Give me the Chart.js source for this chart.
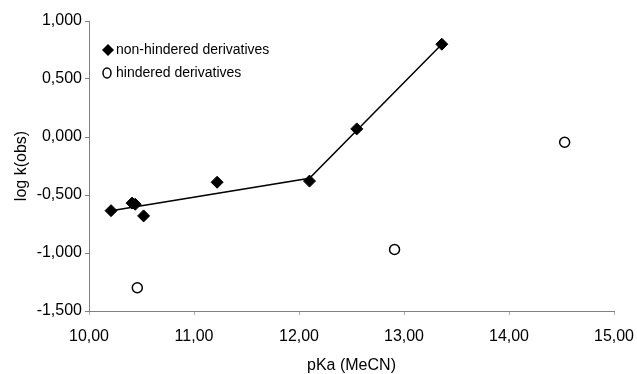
<!DOCTYPE html>
<html>
<head>
<meta charset="utf-8">
<script src="https://cdn.jsdelivr.net/npm/chart.js@4"></script>
<style>
  html, body { margin: 0; padding: 0; background: #fff; }
  #wrap { width: 637px; height: 374px; }
</style>
</head>
<body>
<div id="wrap"><canvas id="chart"></canvas></div>
<script>
// pKa (MeCN) vs log k(obs)
const nonHinderedX = [10.21, 10.41, 10.44, 10.52, 11.22, 12.10, 12.55, 13.36];
const nonHinderedY = [-0.635, -0.57, -0.58, -0.68, -0.39, -0.38, 0.07, 0.80];
const hinderedX = [10.46, 12.91, 14.53];
const hinderedY = [-1.30, -0.97, -0.045];
const fitX = [10.21, 12.10, 13.36];
const fitY = [-0.635, -0.355, 0.80];

const legendItems = ["non-hindered derivatives", "hindered derivatives"];
const xTitle = "pKa (MeCN)";
const yTitle = "log k(obs)";

const FONT = "'Liberation Sans', Arial, sans-serif";

function toPoints(xs, ys) {
  return xs.map((x, i) => ({ x, y: ys[i] }));
}

function comma(value, digits) {
  return value.toFixed(digits).replace(".", ",");
}

// legend drawn inside the plot, top-left, like the original
const insideLegend = {
  id: "insideLegend",
  afterDraw(chart) {
    const { ctx, chartArea } = chart;
    const x0 = chartArea.left + 19;
    const rows = [chartArea.top + 29, chartArea.top + 52];
    ctx.save();
    ctx.font = `14px ${FONT}`;
    ctx.fillStyle = "#000";
    ctx.strokeStyle = "#000";
    ctx.textBaseline = "middle";

    ctx.beginPath();
    ctx.moveTo(x0, rows[0] - 6);
    ctx.lineTo(x0 + 6, rows[0]);
    ctx.lineTo(x0, rows[0] + 6);
    ctx.lineTo(x0 - 6, rows[0]);
    ctx.closePath();
    ctx.fill();
    ctx.fillText(legendItems[0], x0 + 8, rows[0]);

    ctx.lineWidth = 1.5;
    ctx.beginPath();
    ctx.ellipse(x0 - 1, rows[1], 4, 5, 0, 0, Math.PI * 2);
    ctx.stroke();
    ctx.fillText(legendItems[1], x0 + 8, rows[1]);
    ctx.restore();
  },
};

new Chart(document.getElementById("chart"), {
  type: "scatter",
  data: {
    datasets: [
      {
        label: "fit",
        data: toPoints(fitX, fitY),
        showLine: true,
        borderColor: "#000",
        borderWidth: 1.5,
        pointRadius: 0,
        tension: 0,
      },
      {
        label: legendItems[0],
        data: toPoints(nonHinderedX, nonHinderedY),
        pointStyle: "rectRot",
        pointRadius: 6,
        backgroundColor: "#000",
        borderColor: "#000",
        borderWidth: 1,
      },
      {
        label: legendItems[1],
        data: toPoints(hinderedX, hinderedY),
        pointStyle: "circle",
        pointRadius: 5,
        backgroundColor: "#fff",
        borderColor: "#000",
        borderWidth: 1.5,
      },
    ],
  },
  options: {
    responsive: true,
    maintainAspectRatio: false,
    animation: false,
    layout: { padding: { top: 21, right: 23, bottom: 0, left: 0 } },
    plugins: {
      legend: { display: false },
      tooltip: { enabled: false },
    },
    scales: {
      x: {
        type: "linear",
        min: 10,
        max: 15,
        afterFit: (scale) => {
          scale.height = 63;
          scale.paddingLeft = 0;
          scale.paddingRight = 0;
        },
        border: { color: "#808080", width: 1 },
        grid: { drawOnChartArea: false, tickLength: 4, color: "#b0b0b0" },
        ticks: {
          stepSize: 1,
          padding: 12,
          color: "#000",
          font: { family: FONT, size: 16 },
          callback: (v) => comma(v, 2),
        },
        title: {
          display: true,
          text: xTitle,
          color: "#000",
          font: { family: FONT, size: 16, lineHeight: 1 },
          padding: { top: 0, bottom: 0 },
        },
      },
      y: {
        min: -1.5,
        max: 1,
        afterFit: (scale) => {
          scale.width = 89;
          scale.paddingTop = 0;
          scale.paddingBottom = 0;
        },
        border: { color: "#808080", width: 1 },
        grid: { drawOnChartArea: false, tickLength: 4, color: "#808080" },
        ticks: {
          stepSize: 0.5,
          padding: 3,
          color: "#000",
          font: { family: FONT, size: 16 },
          callback: (v) => comma(v, 3),
        },
        title: {
          display: true,
          text: yTitle,
          color: "#000",
          font: { family: FONT, size: 16, lineHeight: 1.2 },
          padding: { top: 12, bottom: 0 },
        },
      },
    },
  },
  plugins: [insideLegend],
});
</script>
</body>
</html>
